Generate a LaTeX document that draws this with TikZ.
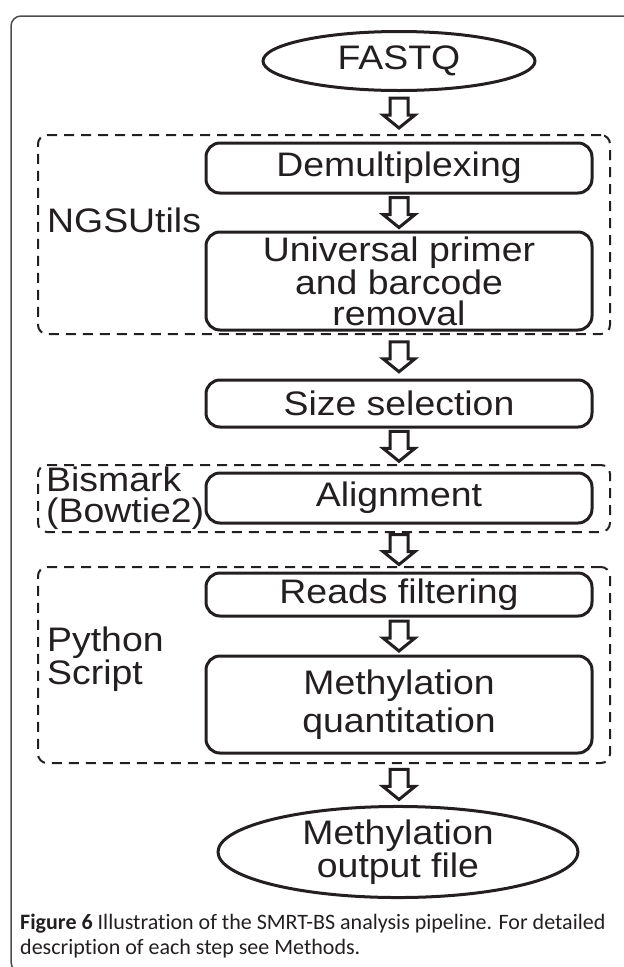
\documentclass[tikz,border=0pt]{standalone}
\usepackage{fontspec}
\usepackage{tikz}
\usetikzlibrary{calc, shapes.geometric}

\newfontfamily\flowfont[FakeStretch=1.1]{Liberation Sans}
\newfontfamily\capfont[Ligatures=NoCommon]{Carlito}
\definecolor{ink}{HTML}{231F20}
\definecolor{framegray}{HTML}{4D4D4D}

% hollow block arrow half way between two nodes, on the column of the steps
\newcommand{\flowarrow}[2]{%
  \coordinate (gap) at ($(#1.south)!0.5!(#2.north)$);
  \coordinate (mid) at (gap -| sizesel);
  \draw [hollow arrow] ($(mid)+(-9,-15)$) -- ($(mid)+(9,-15)$) -- ($(mid)+(9,2)$)
    -- ($(mid)+(16,2)$) -- ($(mid)+(0,15)$) -- ($(mid)+(-16,2)$) -- ($(mid)+(-9,2)$) -- cycle;
}

\begin{document}
\begin{tikzpicture}[x=1pt, y=-1pt]
      \tikzset{stepbox/.style={draw=ink, line width=3pt, rounded corners=14pt,
          minimum width=386pt, inner sep=0pt, align=center, text=ink,
          font=\flowfont\fontsize{34}{31}\selectfont},
        terminal/.style={draw=ink, line width=3pt, ellipse, inner sep=0pt,
          align=center, text=ink, font=\flowfont\fontsize{34}{30}\selectfont},
        group/.style={draw=ink, line width=2pt, dash pattern=on 10pt off 7pt,
          rounded corners=9pt, minimum width=572pt, inner sep=0pt},
        grouplabel/.style={anchor=west, inner sep=0pt, align=left, text=ink,
          font=\flowfont\fontsize{34}{31}\selectfont},
        hollow arrow/.style={draw=ink, line width=3pt, fill=white, line join=miter}
      }
      \useasboundingbox (0,0) rectangle (624,967);
      \draw [framegray, line width=1.5pt, rounded corners=10pt] (11,16) rectangle (640,972);

      \node [terminal, minimum width=272pt, minimum height=59pt] (fastq) at (399,61) {FASTQ};

      \node [group, minimum height=199pt] (ngsutils) at (324,234.5) {};
      \node [grouplabel] (ngslabel) at (47,220) {NGSUtils};
      \node [stepbox, minimum height=50pt] (demux) at (399,168) {Demultiplexing};
      \node [stepbox, minimum height=98pt] (primer) at (399,281) {Universal primer\\and barcode\\removal};

      \node [stepbox, minimum height=47pt] (sizesel) at (399,403.5) {Size selection};

      \node [group, minimum height=67pt] (bismark) at (324,498.5) {};
      \node [grouplabel] (bismarklabel) at (46,498) {Bismark\\(Bowtie2)};
      \node [stepbox, minimum height=50pt] (align) at (399,498) {Alignment};

      \node [group, minimum height=196pt] (python) at (324,665) {};
      \node [grouplabel] (pythonlabel) at (47,659) {Python\\Script};
      \node [stepbox, minimum height=43pt] (filter) at (399,594.5) {Reads filtering};
      \node [stepbox, minimum height=97pt, font=\flowfont\fontsize{34}{38}\selectfont] (quant) at (399,704.5) {Methylation\\quantitation};

      \node [terminal, minimum width=360pt, minimum height=88pt] (output) at (398,852) {Methylation\\output file};

      \flowarrow{fastq}{ngsutils}
      \flowarrow{demux}{primer}
      \flowarrow{ngsutils}{sizesel}
      \flowarrow{sizesel}{bismark}
      \flowarrow{bismark}{python}
      \flowarrow{filter}{quant}
      \flowarrow{python}{output}

      \node [anchor=north west, inner sep=0pt, align=left, text=ink,
        font=\capfont\fontsize{22}{25}\selectfont] (caption) at (20,914)
        {\textbf{Figure 6} Illustration of the SMRT-BS analysis pipeline. For detailed\\
         description of each step see Methods.};
\end{tikzpicture}
\end{document}
